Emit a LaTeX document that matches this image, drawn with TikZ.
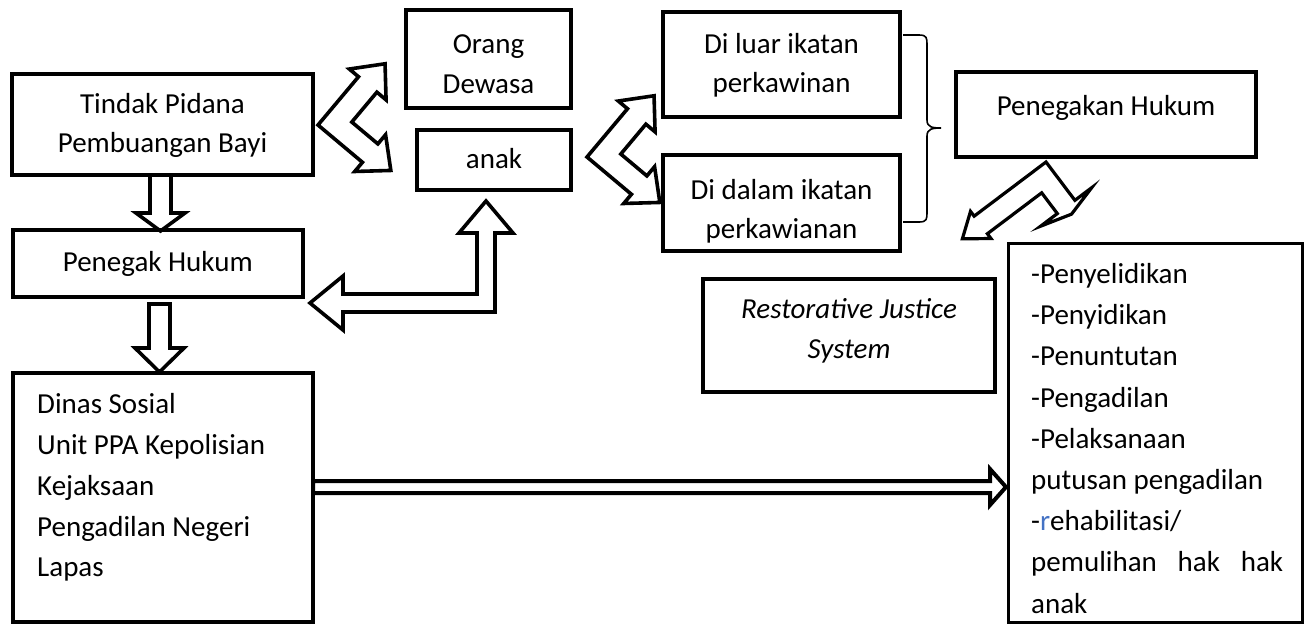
\documentclass[tikz,border=0pt]{standalone}
\usepackage{fontspec}
\setmainfont{Carlito}
\usetikzlibrary{calc}
\definecolor{wordblue}{RGB}{68,114,196}
% bent block arrow: #1 origin, #2 rotation, #3 band width, #4 arm1 length, #5 head1 overhang, #6 head1 length, #7 arm2 length, #8 head2 overhang, #9 head2 length
\newcommand{\bentarrow}[9]{%
\begin{scope}[shift={#1}, rotate=#2]
\draw[blockarrow] (0pt,0pt) -- (#4pt,0pt) -- (#4pt,-#5pt) -- ({(#4+#6)*1pt},{(#3/2)*1pt}) -- (#4pt,{(#3+#5)*1pt}) -- (#4pt,#3pt) -- (#3pt,#3pt) -- (#3pt,#7pt) -- ({(#3+#8)*1pt},#7pt) -- ({(#3/2)*1pt},{(#7+#9)*1pt}) -- (-#8pt,#7pt) -- (0pt,#7pt) -- cycle;
\end{scope}}
\begin{document}
\begin{tikzpicture}[x=1pt,y=-1pt,
  box/.style={draw, line width=4pt, inner sep=0pt},
  blockarrow/.style={draw, fill=white, line width=3.6pt, line join=miter},
  txt/.style={inner sep=0pt, font=\fontsize{29}{41}\selectfont},
  bracestyle/.style={draw, line width=1.6pt}]
\useasboundingbox (0,0) rectangle (1305,625);

% block arrows
\draw[blockarrow] (150,175) -- (171,175) -- (171,213) -- (185,213) -- (160.5,231) -- (136,213) -- (150,213) -- cycle;
\draw[blockarrow] (149,304) -- (170,304) -- (170,348) -- (184,348) -- (159.5,372) -- (135,348) -- (149,348) -- cycle;
\draw[blockarrow, line width=4pt] (313,481) -- (990,481) -- (990,469) -- (1006,487) -- (990,505) -- (990,493) -- (313,493) -- cycle;
\bentarrow{(318,125)}{-40}{24}{58}{12}{27}{63}{12}{27}
\bentarrow{(587,157)}{-40}{24}{58}{12}{27}{63}{12}{27}
\bentarrow{(495,312)}{90}{18}{79}{18}{32}{152}{18}{33}
\begin{scope}[blockarrow/.append style={line width=3.2pt}]
\bentarrow{(1046,162)}{-143}{22}{90}{6}{23}{48}{21}{9}
\end{scope}

% boxes
\node[box, minimum width=301pt, minimum height=101pt] (tindak) at (162.5,124.5) {};
\node[box, minimum width=165pt, minimum height=98pt] (orang) at (488.5,59) {};
\node[box, minimum width=154pt, minimum height=60pt] (anak) at (494,160) {};
\node[box, minimum width=237pt, minimum height=105pt] (diluar) at (781.5,64.5) {};
\node[box, minimum width=237pt, minimum height=96pt] (didalam) at (781.5,203) {};
\node[box, minimum width=300pt, minimum height=85pt] (penegakan) at (1106,114.5) {};
\node[box, minimum width=290.5pt, minimum height=67pt] (penegak) at (157.75,263.5) {};
\node[box, minimum width=292pt, minimum height=113pt] (restor) at (849,335.5) {};
\node[box, minimum width=300.5pt, minimum height=249pt] (dinas) at (162.75,497.5) {};
\node[box, line width=3pt, minimum width=294pt, minimum height=379pt] (list) at (1155,432.5) {};

% brace
\draw[bracestyle] (903,35) -- (919,35) .. controls (927,35) and (927,38) .. (927,45) -- (927,120) .. controls (927,127) and (932,128) .. (941,128) .. controls (932,128) and (927,129) .. (927,136) -- (927,212) .. controls (927,219) and (927,222) .. (919,222) -- (903,222);

% texts
\node[txt, anchor=base] (tA) at (162.5,113) {Tindak Pidana};
\node[txt, anchor=base] (tB) at (162.5,152) {Pembuangan Bayi};
\node[txt, anchor=base] (oA) at (488.5,53) {Orang};
\node[txt, anchor=base] (oB) at (488.5,93) {Dewasa};
\node[txt, anchor=base] (aA) at (494,168) {anak};
\node[txt, anchor=base] (lA) at (781.5,53) {Di luar ikatan};
\node[txt, anchor=base] (lB) at (781.5,92) {perkawinan};
\node[txt, anchor=base] (dA) at (781.5,199) {Di dalam ikatan};
\node[txt, anchor=base] (dB) at (781.5,238) {perkawianan};
\node[txt, anchor=base] (pA) at (1106,115) {Penegakan Hukum};
\node[txt, anchor=base] (gA) at (157.75,271) {Penegak Hukum};
\node[txt, anchor=base, font=\fontsize{29}{41}\selectfont\itshape] (rA) at (849,318) {Restorative Justice};
\node[txt, anchor=base, font=\fontsize{29}{41}\selectfont\itshape] (rB) at (849,358) {System};

\node[txt, anchor=base west] (n1) at (37,413) {Dinas Sosial};
\node[txt, anchor=base west] (n2) at (37,454) {Unit PPA Kepolisian};
\node[txt, anchor=base west] (n3) at (37,495) {Kejaksaan};
\node[txt, anchor=base west] (n4) at (37,536) {Pengadilan Negeri};
\node[txt, anchor=base west] (n5) at (37,576) {Lapas};

\node[txt, anchor=base west] (s1) at (1031,283) {-Penyelidikan};
\node[txt, anchor=base west] (s2) at (1031,324) {-Penyidikan};
\node[txt, anchor=base west] (s3) at (1031,365) {-Penuntutan};
\node[txt, anchor=base west] (s4) at (1031,407) {-Pengadilan};
\node[txt, anchor=base west] (s5) at (1031,448) {-Pelaksanaan};
\node[txt, anchor=base west] (s6) at (1031,489) {putusan pengadilan};
\node[txt, anchor=base west] (s7) at (1031,530) {-\textcolor{wordblue}{r}ehabilitasi/};
\node[txt, anchor=base west] (s8) at (1031,571) {\makebox[252pt][s]{pemulihan hak hak}};
\node[txt, anchor=base west] (s9) at (1031,613) {anak};
\end{tikzpicture}
\end{document}
